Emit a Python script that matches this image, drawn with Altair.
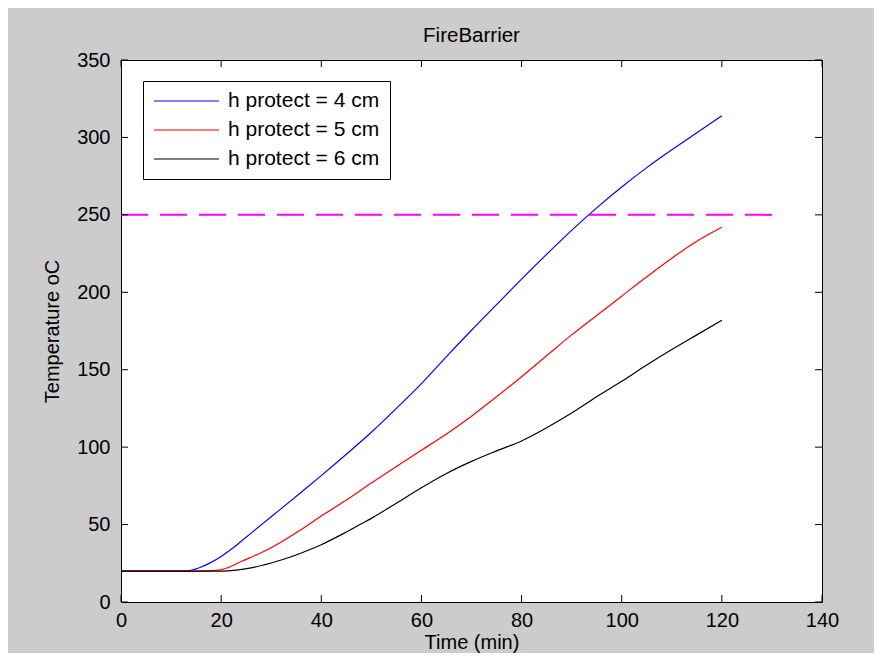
import altair as alt
import pandas as pd

# ---- data ----
series_labels = ["h protect = 4 cm", "h protect = 5 cm", "h protect = 6 cm"]
series_colors = ["#0000ff", "#ff0000", "#000000"]

time_4cm = [0, 5, 10, 13, 14, 16, 18, 20, 22, 24, 28, 32, 36, 40, 45, 50, 55, 60, 65, 70, 75, 80, 85, 90, 95, 100, 105, 110, 115, 120]
temp_4cm = [20, 20, 20, 20.1, 20.5, 22.6, 25.6, 29.4, 34, 39.2, 49.8, 60.3, 70.9, 81.6, 95.4, 109.6, 125, 141, 158.5, 175.5, 192, 208.5, 224.5, 240, 254.5, 268, 280.5, 292, 303, 314]

time_5cm = [0, 5, 10, 15, 17, 19, 21, 24, 28, 32, 36, 40, 45, 50, 55, 60, 65, 70, 75, 80, 85, 90, 95, 100, 105, 110, 115, 120]
temp_5cm = [20, 20, 20, 20, 20.1, 20.5, 21.8, 26.2, 31.8, 38.8, 46.8, 55.5, 65.8, 76.8, 87.5, 98, 108.5, 120, 132.5, 145.5, 159, 172.5, 185, 197.5, 210, 222, 233, 242]

time_6cm = [0, 5, 10, 15, 20, 23, 26, 30, 34, 38, 40, 44, 48, 50, 55, 60, 65, 70, 75, 80, 85, 90, 95, 100, 105, 110, 115, 120]
temp_6cm = [20, 20, 20, 20, 20, 20.6, 22, 25.2, 29.2, 34.2, 37, 43.5, 50.5, 54, 63.8, 73.8, 83, 90.8, 97.6, 104, 112.5, 122, 132.5, 142.5, 153, 163, 172.5, 182]

limit_time = [0, 130]
limit_temp = 250

x_ticks = [0, 20, 40, 60, 80, 100, 120, 140]
y_ticks = [0, 50, 100, 150, 200, 250, 300, 350]

# ---- build tables ----
rows = []
for lab, ts, vs in zip(series_labels, [time_4cm, time_5cm, time_6cm], [temp_4cm, temp_5cm, temp_6cm]):
    for t, v in zip(ts, vs):
        rows.append({"time": t, "temp": v, "series": lab})
df = pd.DataFrame(rows)
limit_df = pd.DataFrame({"x0": [limit_time[0]], "x1": [limit_time[1]], "y": [limit_temp]})
xt_df = pd.DataFrame({"t": x_ticks})
yt_df = pd.DataFrame({"t": y_ticks})

W, H = 701, 542
TICK = 7
FONT = "Liberation Sans"

x_scale = alt.Scale(domain=[0, 140], nice=False, zero=False)
y_scale = alt.Scale(domain=[0, 350], nice=False, zero=False)

x_axis = alt.Axis(values=x_ticks, title="Time (min)", grid=False, domain=False, ticks=False, tickSize=0,
                  labelPadding=8, titlePadding=2, labelFlush=False, labelOverlap=False,
                  labelFont=FONT, titleFont=FONT, labelFontSize=20, titleFontSize=20,
                  labelColor="black", titleColor="black", titleFontWeight="normal")
y_axis = alt.Axis(values=y_ticks, title="Temperature oC", grid=False, domain=False, ticks=False, tickSize=0,
                  labelPadding=11, titlePadding=14, labelFlush=False, labelOverlap=False,
                  labelFont=FONT, titleFont=FONT, labelFontSize=20, titleFontSize=20,
                  labelColor="black", titleColor="black", titleFontWeight="normal")

lines = alt.Chart(df).mark_line(strokeWidth=1.2, interpolate="monotone").encode(
    x=alt.X("time:Q", scale=x_scale, axis=x_axis),
    y=alt.Y("temp:Q", scale=y_scale, axis=y_axis),
    color=alt.Color("series:N",
                    scale=alt.Scale(domain=series_labels, range=series_colors),
                    legend=alt.Legend(title=None, orient="none", legendX=22, legendY=21,
                                      symbolType="stroke", symbolSize=4225, symbolStrokeWidth=1.2,
                                      clipHeight=20, rowPadding=8, padding=10,
                                      symbolOffset=0, labelOffset=8, labelLimit=400,
                                      labelFont=FONT, labelFontSize=21, labelColor="black",
                                      strokeColor="black", fillColor="white")),
)

limit = alt.Chart(limit_df).mark_rule(color="#ff00ff", strokeWidth=2, strokeDash=[27, 12]).encode(
    x=alt.X("x0:Q", scale=x_scale, axis=x_axis),
    x2="x1:Q",
    y=alt.Y("y:Q", scale=y_scale, axis=y_axis),
)

tick_style = dict(color="black", strokeWidth=1)
bottom_ticks = alt.Chart(xt_df).mark_rule(**tick_style).encode(
    x=alt.X("t:Q", scale=x_scale, axis=x_axis), y=alt.value(H), y2=alt.value(H - TICK))
top_ticks = alt.Chart(xt_df).mark_rule(**tick_style).encode(
    x=alt.X("t:Q", scale=x_scale, axis=x_axis), y=alt.value(0), y2=alt.value(TICK))
left_ticks = alt.Chart(yt_df).mark_rule(**tick_style).encode(
    y=alt.Y("t:Q", scale=y_scale, axis=y_axis), x=alt.value(0), x2=alt.value(TICK))
right_ticks = alt.Chart(yt_df).mark_rule(**tick_style).encode(
    y=alt.Y("t:Q", scale=y_scale, axis=y_axis), x=alt.value(W), x2=alt.value(W - TICK))

chart = alt.layer(lines, limit, bottom_ticks, top_ticks, left_ticks, right_ticks).properties(
    width=W, height=H,
    title=alt.Title("FireBarrier", font=FONT, fontSize=20.5, fontWeight="normal", color="black", offset=4),
    autosize=alt.AutoSizeParams(type="none"),
    padding={"left": 113, "top": 52, "right": 52, "bottom": 51},
    background="#cccccc",
).configure_view(
    fill="white", stroke="black", strokeWidth=1
)

chart.save("out.html", embed_options={"renderer": "svg", "actions": False})
